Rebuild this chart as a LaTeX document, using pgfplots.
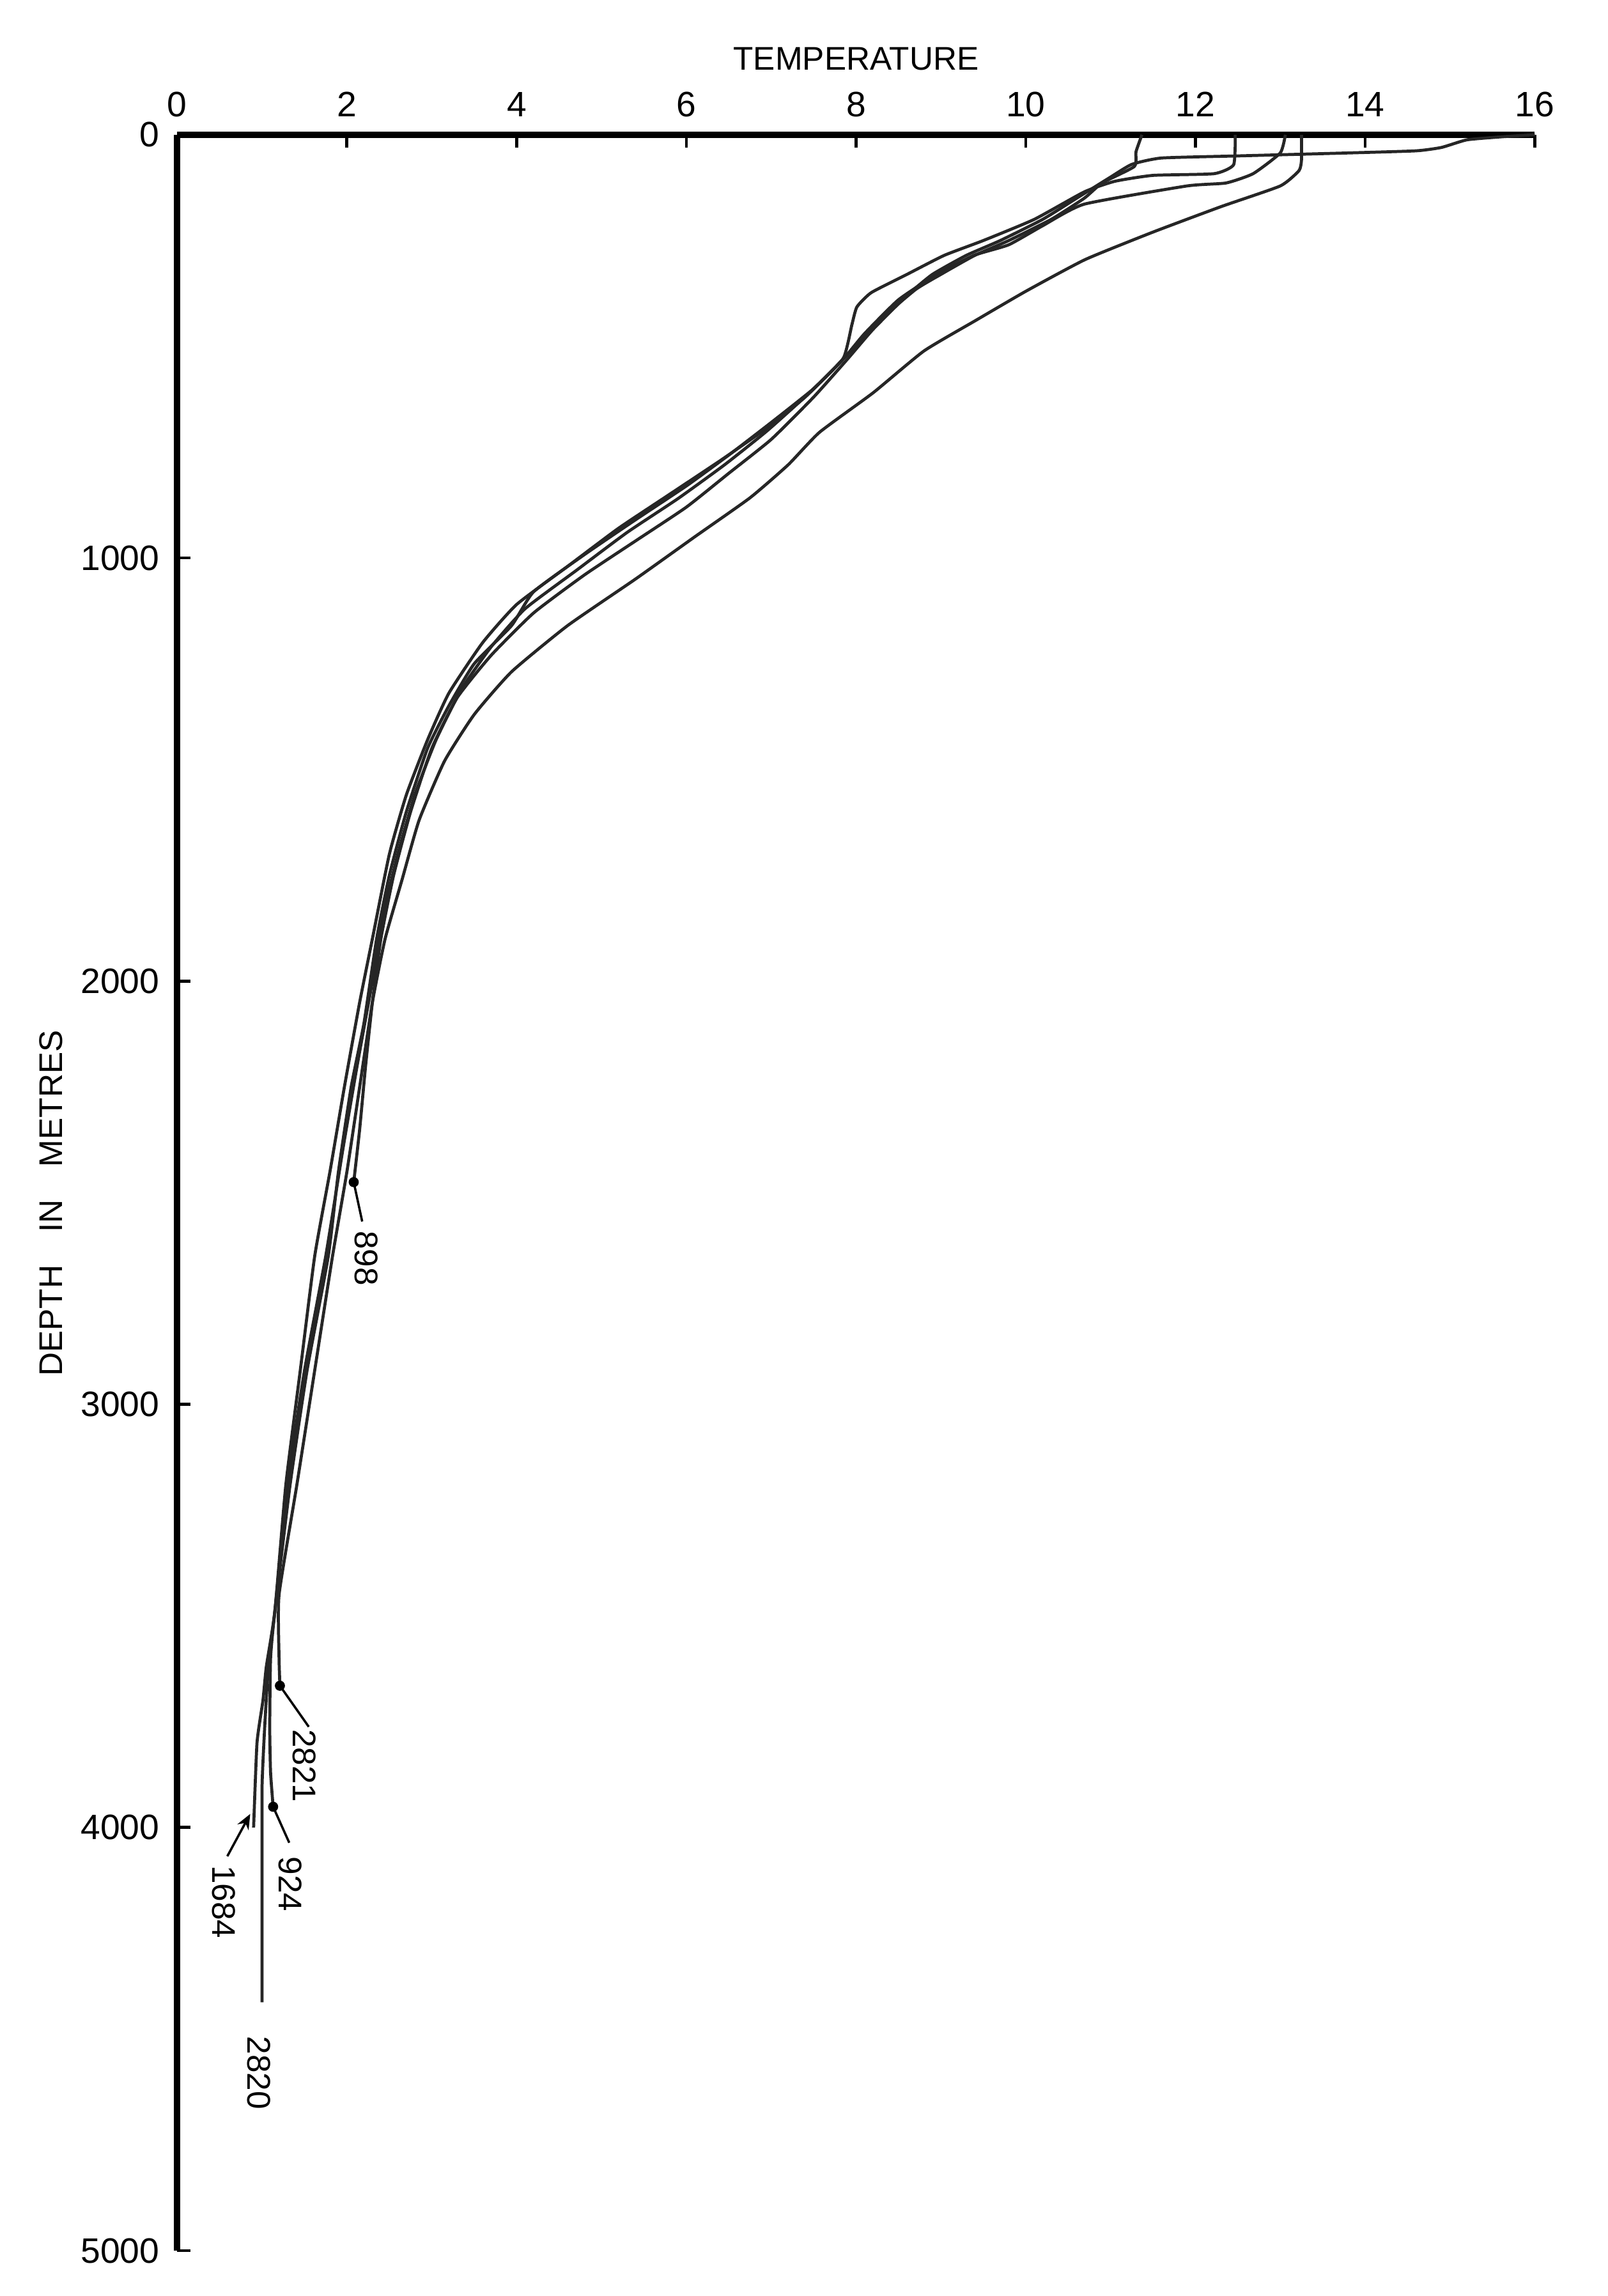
\documentclass[border=0pt]{standalone}
\usepackage{fontspec}
\setmainfont{Liberation Sans}
\usepackage{pgfplots}
\pgfplotsset{compat=1.18}
\usetikzlibrary{arrows.meta}

\begin{document}
\begin{tikzpicture}
% page frame: axis box 9.459 x 14.745 cm plus the margins of the scan
\useasboundingbox (-1.235,-0.316) rectangle (9.969,15.684);
\begin{axis}[
  at={(0,0)}, anchor=south west,
  scale only axis, width=9.459cm, height=14.745cm,
  xmin=0, xmax=16, ymin=0, ymax=5000, y dir=reverse,
  axis x line*=top, axis y line*=left,
  axis line style={-, line width=1.3pt},
  xtick={0,2,...,16}, ytick={0,1000,...,5000},
  tick align=inside, major tick length=0.09cm,
  tick style={line width=0.6pt, black},
  /pgf/number format/assume math mode=true,
  /pgf/number format/1000 sep={},
  scaled y ticks=false,
  tick label style={font=\fontsize{7}{8}\selectfont},
  clip=false,
  prof/.style={line width=0.6pt, black!85, no markers, smooth, tension=0.3},
  lead/.style={line width=0.45pt, black, no markers, sharp plot},
]
% station 898 (surface 16 C)
\addplot[prof] coordinates {(16.0,0) (15.6,5) (15.2,12) (14.9,30) (14.6,38) (13.8,43)
  (12.5,50) (11.6,55) (11.25,70) (11.0,100) (10.6,150) (10.2,200) (9.7,250)
  (9.3,285) (8.9,330) (8.6,380) (8.2,460) (7.9,530) (7.5,620) (7.0,720)
  (6.5,800) (6.0,880) (5.4,960) (4.8,1040) (4.2,1130) (3.7,1230) (3.3,1330)
  (3.0,1450) (2.75,1600) (2.55,1750) (2.4,1900) (2.3,2050) (2.22,2200)
  (2.15,2350) (2.08,2475)};
% station 1684
\addplot[prof] coordinates {(11.37,0) (11.3,40) (11.28,75) (10.9,114) (10.69,150)
  (10.3,200) (9.8,250) (9.4,285) (9.0,330) (8.7,366) (8.27,440) (7.85,530)
  (7.4,620) (6.9,700) (6.4,770) (5.8,850) (5.2,930) (4.6,1020) (4.0,1110)
  (3.6,1200) (3.2,1320) (2.95,1430) (2.7,1560) (2.5,1700) (2.3,1900)
  (2.15,2050) (1.97,2250) (1.8,2450) (1.62,2650) (1.45,2920) (1.28,3190)
  (1.15,3490) (1.05,3620) (1.01,3700) (0.94,3800) (0.9,4000)};
% station 924
\addplot[prof] coordinates {(12.47,0) (12.45,71) (12.22,92) (11.5,96) (11.05,110)
  (10.69,135) (10.1,200) (9.5,250) (9.04,285) (8.6,330) (8.18,373) (8.01,407)
  (7.95,450) (7.85,528) (7.5,600) (7.0,680) (6.5,757) (6.0,830) (5.4,910)
  (4.8,992) (4.2,1080) (3.94,1160) (3.5,1250) (3.2,1350) (2.95,1450)
  (2.7,1600) (2.5,1750) (2.35,1900) (2.2,2100) (2.05,2250) (1.9,2450)
  (1.78,2650) (1.53,2920) (1.33,3190) (1.15,3490) (1.1,3600) (1.09,3765)
  (1.1,3870) (1.13,3951)};
% station 2820
\addplot[prof] coordinates {(13.06,0) (13.0,43) (12.68,92) (12.36,114) (11.9,121)
  (10.69,164) (10.2,215) (9.8,260) (9.39,285) (8.95,330) (8.5,390) (8.1,470)
  (7.85,530) (7.45,610) (6.95,700) (6.45,780) (5.9,860) (5.3,940) (4.7,1030)
  (4.1,1120) (3.7,1210) (3.35,1310) (3.05,1430) (2.8,1560) (2.6,1700)
  (2.42,1850) (2.3,2000) (2.12,2200) (1.95,2400) (1.75,2650) (1.5,2920)
  (1.3,3190) (1.15,3490) (1.08,3600) (1.03,3765) (1.0,3900) (1.0,4100)
  (1.0,4413)};
% station 2821
\addplot[prof] coordinates {(13.25,0) (13.25,60) (13.22,85) (13.0,121) (12.3,170)
  (11.5,230) (10.7,295) (10.0,370) (9.4,440) (8.8,511) (8.2,610) (7.57,703)
  (7.2,780) (6.75,858) (6.1,950) (5.4,1050) (4.6,1160) (3.94,1269) (3.5,1370)
  (3.15,1480) (2.85,1620) (2.65,1760) (2.45,1900) (2.3,2050) (2.15,2250)
  (2.0,2450) (1.83,2650) (1.62,2920) (1.41,3190) (1.2,3450) (1.2,3600)
  (1.21,3665)};

% end dots and leaders
\addplot[only marks, mark=*, mark size=0.8pt, black] coordinates {(2.08,2475) (1.21,3665) (1.13,3951)};
\addplot[lead] coordinates {(2.08,2475) (2.18,2568)};
\addplot[lead] coordinates {(1.21,3665) (1.55,3762)};
\addplot[lead] coordinates {(1.13,3951) (1.32,4036)};
\addplot[lead, -{Stealth[length=3pt,width=2.5pt]}] coordinates {(0.59,4068) (0.86,3968)};

\begin{scope}[font=\fontsize{6.5}{7}\selectfont]
\node[rotate=-90] at (axis cs:2.23,2655) {898};
\node[rotate=-90] at (axis cs:1.50,3854) {2821};
\node[rotate=-90] at (axis cs:1.33,4134) {924};
\node[rotate=-90] at (axis cs:0.55,4176) {1684};
\node[rotate=-90] at (axis cs:0.96,4580) {2820};
\node at ([yshift=0.531cm]axis description cs:0.5,1) {TEMPERATURE};
\node[rotate=90] at ([xshift=-0.878cm]axis description cs:0,0.495)
  {DEPTH\hspace{1em}IN\hspace{1em}METRES};
\end{scope}
\end{axis}
\end{tikzpicture}
\end{document}
